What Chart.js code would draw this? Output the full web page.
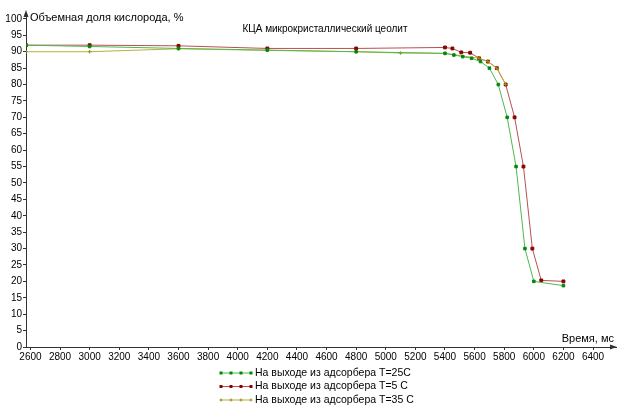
<!DOCTYPE html>
<html>
<head>
<meta charset="utf-8">
<script src="https://cdn.jsdelivr.net/npm/chart.js@4/dist/chart.umd.min.js"></script>
<style>
  html, body { margin: 0; padding: 0; background: #fff; }
  #wrap { width: 621px; height: 406px; position: relative; }
</style>
</head>
<body>
<div id="wrap"><canvas id="chart"></canvas></div>
<script>
// Данные (время и доля кислорода)
var timeT25 = [2570, 3000, 3600, 4200, 4800, 5400, 5460, 5520, 5580, 5640, 5700, 5760, 5820, 5880, 5940, 6000, 6200];
var oxygenT25 = [92, 91.6, 91, 90.5, 90, 89.5, 89, 88.5, 88, 87, 85, 80, 70, 55, 30, 20, 18.7];

var timeT5 = [2570, 3000, 3600, 4200, 4800, 5400, 5450, 5510, 5570, 5630, 5690, 5750, 5810, 5870, 5930, 5990, 6050, 6200];
var oxygenT5 = [92, 92, 91.8, 91, 91, 91.3, 91, 89.8, 89.7, 88, 87, 85, 80, 70, 55, 30, 20.3, 20];

var timeT35 = [2570, 3000, 3600, 4200, 4800, 5100, 5400, 5630, 5690, 5750, 5810];
var oxygenT35 = [90, 90, 90.9, 90.4, 90, 89.6, 89.5, 88, 87, 85, 80];

var seriesLabels = ["На выходе из адсорбера T=25C", "На выходе из адсорбера T=5 C", "На выходе из адсорбера T=35 C"];
var xTicks = [2600, 2800, 3000, 3200, 3400, 3600, 3800, 4000, 4200, 4400, 4600, 4800, 5000, 5200, 5400, 5600, 5800, 6000, 6200, 6400];
var yTicks = [0, 5, 10, 15, 20, 25, 30, 35, 40, 45, 50, 55, 60, 65, 70, 75, 80, 85, 90, 95, 100];

var FONT = "'Liberation Sans', Arial, sans-serif";
var AXIS = "#333";

function toPoints(xs, ys) {
    var pts = [];
    for (var i = 0; i < xs.length; i++) pts.push({ x: xs[i], y: ys[i] });
    return pts;
}

// Подписи, стрелки осей и легенда
var decorPlugin = {
    id: "decor",
    afterDraw: function (chart) {
        var ctx = chart.ctx;
        var a = chart.chartArea;
        ctx.save();
        // стрелки
        ctx.fillStyle = AXIS;
        ctx.beginPath();
        ctx.moveTo(a.left, a.top - 4); ctx.lineTo(a.left - 2.5, a.top + 3); ctx.lineTo(a.left + 2.5, a.top + 3);
        ctx.closePath(); ctx.fill();
        ctx.beginPath();
        ctx.moveTo(a.right + 1, a.bottom); ctx.lineTo(a.right - 6, a.bottom - 2.5); ctx.lineTo(a.right - 6, a.bottom + 2.5);
        ctx.closePath(); ctx.fill();

        ctx.fillStyle = "#000";
        ctx.textBaseline = "middle";
        ctx.font = "11px " + FONT;
        ctx.textAlign = "left";
        ctx.fillText("Объемная доля кислорода, %", a.left + 4, 18);
        ctx.textAlign = "right";
        ctx.fillText("Время, мс", 614, 339);
        ctx.font = "10px " + FONT;
        ctx.textAlign = "center";
        ctx.fillText("КЦА микрокристаллический цеолит", 325, 29);

        // легенда
        var ds = chart.data.datasets;
        ctx.font = "10.5px " + FONT;
        ctx.textAlign = "left";
        for (var i = 0; i < ds.length; i++) {
            var y = 373 + i * 13.5;
            ctx.strokeStyle = ds[i].borderColor;
            ctx.lineWidth = 1;
            ctx.beginPath(); ctx.moveTo(220, y); ctx.lineTo(251, y); ctx.stroke();
            for (var k = 0; k < 4; k++) {
                var px = 221 + k * 10;
                ctx.fillStyle = ds[i].pointBackgroundColor;
                if (ds[i].pointStyle === "cross") {
                    ctx.strokeStyle = ds[i].pointBackgroundColor;
                    ctx.beginPath(); ctx.moveTo(px - 1.5, y); ctx.lineTo(px + 1.5, y);
                    ctx.moveTo(px, y - 1.5); ctx.lineTo(px, y + 1.5); ctx.stroke();
                } else {
                    ctx.fillRect(px - 1.5, y - 1.5, 3, 3);
                }
            }
            ctx.fillStyle = "#000";
            ctx.fillText(ds[i].label, 255, y);
        }
        ctx.restore();
    }
};

window.onload = function () {
    var ctx = document.getElementById("chart");
    new Chart(ctx, {
        type: "line",
        data: {
            datasets: [{
                label: seriesLabels[0],
                data: toPoints(timeT25, oxygenT25),
                borderColor: "#4fb84f",
                pointBackgroundColor: "#00880a",
                pointBorderColor: "#00880a",
                pointStyle: "rect",
                pointRadius: 1.8,
                borderWidth: 1,
                order: 0
            }, {
                label: seriesLabels[1],
                data: toPoints(timeT5, oxygenT5),
                borderColor: "#b85050",
                pointBackgroundColor: "#8b0000",
                pointBorderColor: "#8b0000",
                pointStyle: "rect",
                pointRadius: 2,
                borderWidth: 1,
                order: 2
            }, {
                label: seriesLabels[2],
                data: toPoints(timeT35, oxygenT35),
                borderColor: "#b8b040",
                pointBackgroundColor: "#9a9400",
                pointBorderColor: "#9a9400",
                pointStyle: "cross",
                pointRadius: 1.8,
                borderWidth: 1,
                order: 1
            }]
        },
        options: {
            responsive: true,
            maintainAspectRatio: false,
            animation: false,
            layout: { padding: { left: 0, right: 1, top: 14, bottom: 39 } },
            plugins: { legend: { display: false }, tooltip: { enabled: false } },
            elements: { line: { tension: 0 } },
            scales: {
                x: {
                    type: "linear",
                    min: 2570,
                    max: 6555,
                    afterBuildTicks: function (s) { s.ticks = xTicks.map(function (v) { return { value: v }; }); },
                    afterFit: function (s) { s.height = 20; },
                    grid: { drawOnChartArea: false, drawTicks: true, tickLength: 3, color: AXIS },
                    border: { color: AXIS, width: 1 },
                    ticks: {
                        color: "#000", font: { family: FONT, size: 10 }, padding: 1, maxRotation: 0, autoSkip: false,
                        callback: function (v) { return String(v); }
                    }
                },
                y: {
                    min: 0,
                    max: 101.5,
                    afterBuildTicks: function (s) { s.ticks = yTicks.map(function (v) { return { value: v }; }); },
                    afterFit: function (s) { s.width = 26; },
                    grid: { drawOnChartArea: false, drawTicks: true, tickLength: 3, color: AXIS },
                    border: { color: AXIS, width: 1 },
                    ticks: {
                        color: "#000", font: { family: FONT, size: 10 }, padding: 1, autoSkip: false,
                        callback: function (v) { return String(v); }
                    }
                }
            }
        },
        plugins: [decorPlugin]
    });
};
</script>
</body>
</html>
